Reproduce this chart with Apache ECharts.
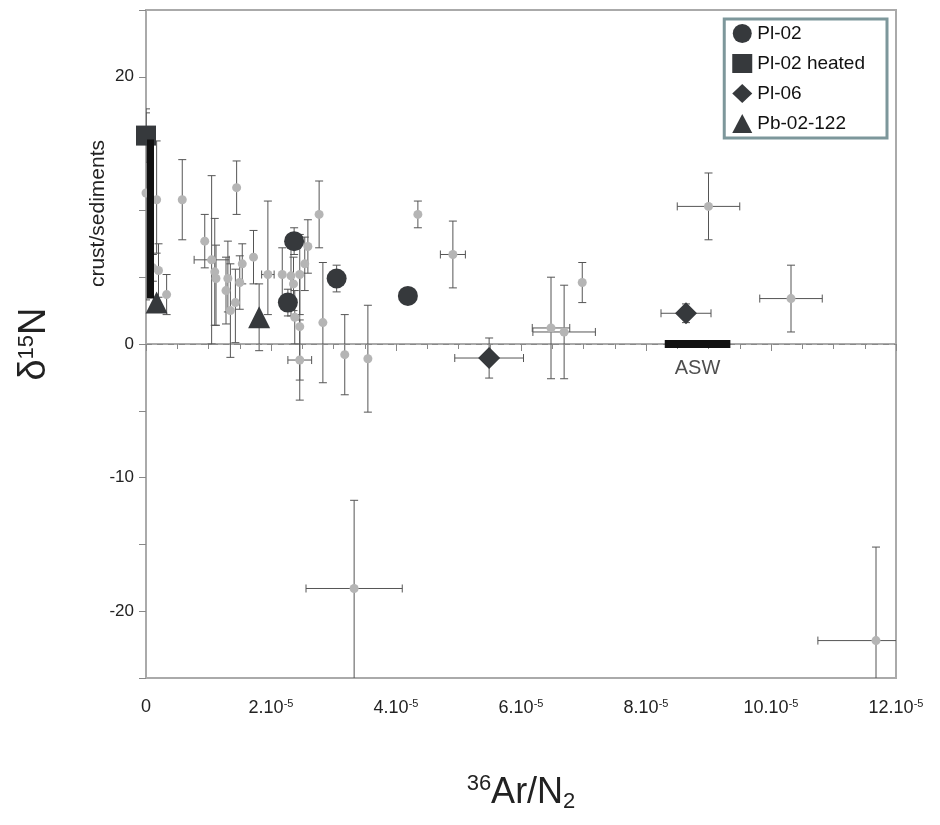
<!DOCTYPE html>
<html lang="en">
<head>
    <meta charset="UTF-8">
    <title>d15N vs 36Ar/N2</title>
    <script src="https://cdn.jsdelivr.net/npm/echarts@6/dist/echarts.min.js"></script>
</head>
<body style="margin:0">
    <div id="main" style="height:825px; width:940px"></div>
    <script>
        // x in units of 1e-5 ; [x, y, xerr, yerrUp, yerrDown]
        var greyPts = [
            [0.0, 11.3, 0, 6, 8], [0.17, 10.8, 0, 4.4, 4], [0.58, 10.8, 0, 3, 3], [1.45, 11.7, 0, 2, 2],
            [0.94, 7.7, 0, 2, 2], [1.05, 6.3, 0.28, 6.3, 6.3], [1.1, 5.4, 0, 4, 4], [1.12, 4.9, 0, 2.5, 3.5],
            [1.31, 4.9, 0, 2.8, 2.5], [1.28, 4.0, 0, 2.5, 2.5], [1.35, 2.5, 0, 3.5, 3.5], [1.43, 3.1, 0, 2.5, 3],
            [1.5, 4.6, 0, 2, 2], [1.54, 6.0, 0, 1.5, 1.5], [1.72, 6.5, 0, 2, 2], [1.95, 5.2, 0.1, 5.5, 3],
            [2.18, 5.2, 0, 2, 2], [2.32, 5.1, 0, 3, 3], [2.36, 4.5, 0, 2, 2], [2.46, 5.2, 0, 3, 3],
            [2.38, 2.0, 0, 2, 2], [2.46, 1.3, 0, 4, 4], [2.46, -1.2, 0.19, 3, 3], [2.54, 6.0, 0, 2, 2],
            [2.59, 7.3, 0, 2, 2], [2.77, 9.7, 0, 2.5, 2.5], [2.83, 1.6, 0, 4.5, 4.5], [3.18, -0.8, 0, 3, 3],
            [3.55, -1.1, 0, 4, 4], [0.11, 5.7, 0, 1, 1], [0.2, 5.5, 0, 2, 2], [0.33, 3.7, 0, 1.5, 1.5],
            [4.35, 9.7, 0, 1, 1], [4.91, 6.7, 0.2, 2.5, 2.5], [6.98, 4.6, 0, 1.5, 1.5], [6.48, 1.2, 0.3, 3.8, 3.8],
            [6.69, 0.9, 0.5, 3.5, 3.5], [9.0, 10.3, 0.5, 2.5, 2.5], [10.32, 3.4, 0.5, 2.5, 2.5],
            [3.33, -18.3, 0.77, 6.6, 7], [11.68, -22.2, 0.93, 7, 5]
        ]
        var pl02 = [[2.37, 7.7, 0, 1, 1], [2.27, 3.1, 0, 1, 1], [3.05, 4.9, 0, 1, 1], [4.19, 3.6, 0, 0.6, 0.6]]
        var pl02Heated = [[0.0, 15.6, 0, 2, 2]]
        var pl06 = [[5.49, -1.05, 0.55, 1.5, 1.5], [8.64, 2.3, 0.4, 0.7, 0.7]]
        var pb02 = [[0.17, 3.1, 0, 0, 0], [1.81, 2.0, 0, 2.5, 2.5]]
        var aswRange = [8.3, 9.35]
        var crustRange = [3.4, 15.3]

        var myCharts = echarts.init(document.getElementById('main'))
        var dark = '#36393c'

        function errSeries(data) {
            return {
                type: 'custom',
                silent: true,
                clip: true,
                z: 1,
                data: data,
                renderItem: function(params, api) {
                    var x = api.value(0), y = api.value(1)
                    var xe = api.value(2), up = api.value(3), dn = api.value(4)
                    var kids = []
                    var st = { stroke: '#555', lineWidth: 1 }
                    if (up || dn) {
                        var a = api.coord([x, y + up]), b = api.coord([x, y - dn])
                        kids.push({ type: 'line', shape: { x1: a[0], y1: a[1], x2: b[0], y2: b[1] }, style: st })
                        kids.push({ type: 'line', shape: { x1: a[0] - 4, y1: a[1], x2: a[0] + 4, y2: a[1] }, style: st })
                        kids.push({ type: 'line', shape: { x1: b[0] - 4, y1: b[1], x2: b[0] + 4, y2: b[1] }, style: st })
                    }
                    if (xe) {
                        var c = api.coord([x - xe, y]), d = api.coord([x + xe, y])
                        kids.push({ type: 'line', shape: { x1: c[0], y1: c[1], x2: d[0], y2: d[1] }, style: st })
                        kids.push({ type: 'line', shape: { x1: c[0], y1: c[1] - 4, x2: c[0], y2: c[1] + 4 }, style: st })
                        kids.push({ type: 'line', shape: { x1: d[0], y1: d[1] - 4, x2: d[0], y2: d[1] + 4 }, style: st })
                    }
                    var cs = params.coordSys
                    return {
                        type: 'group', children: kids,
                        clipPath: { type: 'rect', shape: { x: cs.x, y: cs.y, width: cs.width, height: cs.height } }
                    }
                }
            }
        }

        var option = {
            animation: false,
            textStyle: { fontFamily: 'Liberation Sans, Arial' },
            grid: { left: 146, right: 44, top: 10, bottom: 147, show: true, borderColor: '#aaa', borderWidth: 2 },
            legend: {
                orient: 'vertical', right: 53, top: 19, padding: [5, 22, 5, 8], itemGap: 11,
                borderColor: '#7d979b', borderWidth: 3, itemWidth: 20, itemHeight: 19,
                textStyle: { fontSize: 19, color: '#111' },
                data: [
                    { name: 'Pl-02', icon: 'circle' }, { name: 'Pl-02 heated', icon: 'rect' },
                    { name: 'Pl-06', icon: 'diamond' }, { name: 'Pb-02-122', icon: 'triangle' }
                ]
            },
            xAxis: {
                type: 'value', min: 0, max: 12, interval: 2,
                name: '{s|36}Ar/N{b|2}', nameLocation: 'middle', nameGap: 95,
                nameTextStyle: {
                    fontSize: 36, color: '#222',
                    rich: { s: { fontSize: 22, verticalAlign: 'top', padding: [0, 0, 16, 0] }, b: { fontSize: 22, padding: [18, 0, 0, 0] } }
                },
                splitLine: { show: false },
                axisLine: { lineStyle: { color: '#aaa', width: 2 } },
                axisTick: { lineStyle: { color: '#888' }, length: 7 },
                minorTick: { show: true, splitNumber: 4, length: 5, lineStyle: { color: '#888' } },
                axisLabel: {
                    margin: 20, color: '#222', fontSize: 18,
                    formatter: function(v) { return v === 0 ? '0' : '{a|' + v + '.10}{e|-5}' },
                    rich: { a: { fontSize: 18, color: '#222' }, e: { fontSize: 11, color: '#222', padding: [0, 0, 10, 0] } }
                }
            },
            yAxis: {
                type: 'value', min: -25, max: 25, interval: 5,
                name: 'δ{s|15}N', nameLocation: 'middle', nameGap: 92,
                nameTextStyle: { fontSize: 38, color: '#222', rich: { s: { fontSize: 22, padding: [0, 0, 16, 0] } } },
                splitLine: { show: false },
                axisLine: { lineStyle: { color: '#aaa', width: 2 } },
                axisTick: { inside: false, length: 7, lineStyle: { color: '#888' } },
                axisLabel: {
                    color: '#222', fontSize: 17, margin: 12,
                    formatter: function(v) { return (v % 10 === 0 && v !== 10 && Math.abs(v) !== 25) ? String(v) : '' }
                }
            },
            graphic: [{
                type: 'text', left: 88, top: 140, rotation: Math.PI / 2,
                style: { text: 'crust/sediments', fontSize: 21, fill: '#222', font: '21px Liberation Sans' }
            }],
            series: [
                errSeries(greyPts.concat(pl02, pl02Heated, pl06, pb02)),
                {
                    type: 'scatter', name: 'grey', data: greyPts, symbolSize: 9, z: 2,
                    itemStyle: { color: '#b5b5b5', opacity: 1 },
                    markLine: {
                        silent: true, symbol: 'none', animation: false,
                        data: [
                            [{ coord: [0, 0], lineStyle: { type: [6, 5], color: '#888', width: 1 } }, { coord: [12, 0] }],
                            [{ coord: [aswRange[0], 0], lineStyle: { type: 'solid', color: '#111', width: 8 } }, { coord: [aswRange[1], 0] }],
                            [{ coord: [0.07, crustRange[0]], lineStyle: { type: 'solid', color: '#111', width: 7 } }, { coord: [0.07, crustRange[1]] }]
                        ],
                        label: { show: false }
                    }
                },
                { type: 'scatter', name: 'Pl-02', data: pl02, symbol: 'circle', symbolSize: 20, z: 3, itemStyle: { color: dark, opacity: 1 } },
                { type: 'scatter', name: 'Pl-02 heated', data: pl02Heated, symbol: 'rect', symbolSize: 20, z: 3, itemStyle: { color: dark, opacity: 1 } },
                { type: 'scatter', name: 'Pl-06', data: pl06, symbol: 'diamond', symbolSize: 22, z: 3, itemStyle: { color: dark, opacity: 1 } },
                { type: 'scatter', name: 'Pb-02-122', data: pb02, symbol: 'triangle', symbolSize: 22, z: 3, itemStyle: { color: dark, opacity: 1 } },
                {
                    type: 'scatter', data: [[(aswRange[0] + aswRange[1]) / 2, 0]], symbolSize: 0, silent: true,
                    label: { show: true, formatter: 'ASW', position: 'bottom', distance: 14, fontSize: 20, color: '#222' }
                }
            ]
        }
        myCharts.setOption(option)
    </script>
</body>
</html>
